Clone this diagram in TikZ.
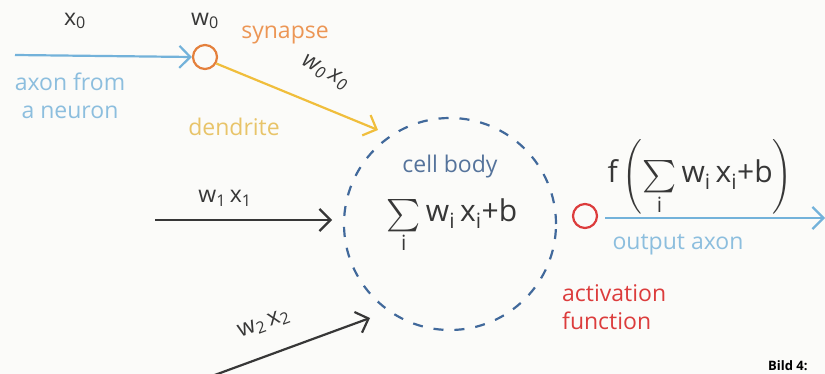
\documentclass[tikz,border=0pt]{standalone}
\usepackage{fontspec}
\usepackage{amsmath}
\usepackage{graphicx}
\setmainfont{Open Sans}
\usetikzlibrary{arrows.meta}
\definecolor{axblue}{RGB}{115,178,218}
\definecolor{axtext}{RGB}{140,190,222}
\definecolor{synor}{RGB}{228,128,60}
\definecolor{syntext}{RGB}{236,150,85}
\definecolor{dendy}{RGB}{240,190,60}
\definecolor{dendtext}{RGB}{232,196,105}
\definecolor{cellblue}{RGB}{65,105,155}
\definecolor{celltext}{RGB}{85,115,155}
\definecolor{dgray}{RGB}{55,55,55}
\definecolor{actred}{RGB}{220,60,60}
\definecolor{bgc}{RGB}{251,251,249}
\tikzset{
  arr/.style={line width=2.2pt,-{Straight Barb[length=11pt,width=22pt,line width=2.2pt]}},
  lbl/.style={inner sep=0pt,font=\fontsize{23}{27}\selectfont},
  big/.style={inner sep=0pt,font=\fontsize{30}{34}\selectfont},
  syn/.style={circle,draw,line width=2.2pt,minimum size=24pt,inner sep=0pt},
}
\newcommand{\bigsum}{\mathop{\vcenter{\hbox{\scalebox{1.3}{$\textstyle\sum$}}}}\limits_{\text{i}}}
\begin{document}
\begin{tikzpicture}[x=1pt,y=-1pt]
\fill[bgc] (0,0) rectangle (825,374);
\useasboundingbox (0,0) rectangle (825,374);
% input x0
\coordinate (a0) at (15,55);
\node[syn,draw=synor] (s0) at (205,57) {};
\draw[arr,axblue] (a0) -- (s0.west);
\node[lbl,dgray] (x0) at (75,21) {x\textsubscript{0}};
\node[lbl,dgray] (w0) at (205,21) {w\textsubscript{0}};
\node[lbl,syntext] (syn) at (285,35) {synapse};
\node[lbl,axtext,align=center] (axon) at (70,96) {axon from\\[1pt]a neuron};
% cell body
\node[circle,draw,cellblue,line width=2.2pt,dash pattern=on 10pt off 11pt,minimum size=212pt] (cell) at (450,224) {};
% dendrite
\coordinate (d0) at (378,130);
\draw[arr,dendy] (s0.-30) -- (d0);
\node[lbl,dgray,rotate=-28] (wx0) at (325,73) {\textit{w\textsubscript{0}\,x\textsubscript{0}}};
\node[lbl,dendtext] (dend) at (234,127) {dendrite};
\node[lbl,celltext] (cb) at (450,167) {cell body};
\node[big,dgray] (sum) at (452,226) {$\bigsum$\,w\textsubscript{i}\,x\textsubscript{i}+b};
% w1x1
\coordinate (a1) at (155,220);
\coordinate (e1) at (332,220);
\draw[arr,dgray] (a1) -- (e1);
\node[lbl,dgray] (wx1) at (225,198) {w\textsubscript{1}\,x\textsubscript{1}};
% w2x2
\coordinate (a2) at (212,376);
\coordinate (e2) at (370,318);
\draw[arr,dgray] (a2) -- (e2);
\node[lbl,dgray,rotate=20] (wx2) at (264,324) {w\textsubscript{2}\,x\textsubscript{2}};
% activation
\node[syn,draw=actred] (act) at (585,216) {};
\coordinate (out) at (825,218);
\coordinate (o0) at (605,218);
\draw[arr,axblue] (o0) -- (out);
\node[big,dgray] (f) at (700,177) {f\,$\Biggl(\bigsum$\,w\textsubscript{i}\,x\textsubscript{i}+b$\Biggr)$};
\node[lbl,axtext] (oa) at (678,245) {output axon};
\node[lbl,actred,align=left,anchor=west] (af) at (562,307) {activation\\[1pt]function};
\node[inner sep=0pt,anchor=west,font=\fontsize{13}{15}\selectfont\bfseries] (bild) at (768,366) {Bild 4:};
\end{tikzpicture}
\end{document}
